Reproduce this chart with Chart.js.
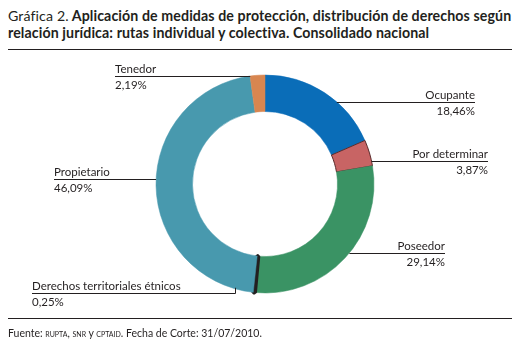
<!DOCTYPE html>
<html lang="es">
<head>
<meta charset="UTF-8">
<title>Gráfica 2</title>
<script src="https://cdn.jsdelivr.net/npm/chart.js"></script>
<style>
  html, body { margin: 0; padding: 0; background: #fff; }
  body { width: 521px; height: 342px; position: relative; overflow: hidden; font-family: Lato, "Open Sans", sans-serif; color: #231f20; }
  #title { position: absolute; left: 8px; top: 7px; width: 512px; font-size: 14.2px; line-height: 17px; font-weight: bold; white-space: nowrap; letter-spacing: 0.1px; }
  #title .lead { font-weight: normal; }
  .rule { position: absolute; left: 8px; width: 504px; height: 0; border-top: 1.5px solid #231f20; }
  #source { position: absolute; left: 8px; top: 327px; font-size: 10.5px; }
  #source .sc { font-variant: small-caps; }
  #wrap { position: absolute; left: 0; top: 0; width: 521px; height: 342px; }
</style>
</head>
<body>
<div id="title"><span class="lead">Gráfica 2.</span> Aplicación de medidas de protección, distribución de derechos según<br>relación jurídica: rutas individual y colectiva. Consolidado nacional</div>
<div class="rule" style="top:49px"></div>
<div id="wrap"><canvas id="myChart"></canvas></div>
<div class="rule" style="top:318px"></div>
<div id="source">Fuente: <span class="sc">rupta, snr</span> y <span class="sc">cptaid</span>. Fecha de Corte: 31/07/2010.</div>

<script>
// datos de la gráfica (porcentajes)
const categories = ['Ocupante', 'Por determinar', 'Poseedor', 'Derechos territoriales étnicos', 'Propietario', 'Tenedor'];
const shares = [18.46, 3.87, 29.14, 0.25, 46.09, 2.19];
const sliceColors = ['#0a6db8', '#c86464', '#3a9364', '#231f20', '#4899ae', '#d88650'];

// posición de cada etiqueta: x del texto, alineación, y de la línea guía
const labelLayout = [
  { x: 475, align: 'right', lineY: 102 },
  { x: 488, align: 'right', lineY: 161 },
  { x: 445, align: 'right', lineY: 253 },
  { x: 32, align: 'left', lineY: 293, elbowX: 235 },
  { x: 54, align: 'left', lineY: 179 },
  { x: 115, align: 'left', lineY: 76 }
];

function formatPct(v) {
  return v.toFixed(2).replace('.', ',') + '%';
}

const leaderLabels = {
  id: 'leaderLabels',
  afterDraw(chart) {
    const ctx = chart.ctx;
    const arc = chart.getDatasetMeta(0).data[0];
    const cx = arc.x, cy = arc.y, R = arc.outerRadius;
    ctx.save();
    ctx.strokeStyle = '#231f20';
    ctx.lineWidth = 1;
    ctx.fillStyle = '#231f20';
    ctx.font = '11.5px Lato, "Open Sans", sans-serif';
    categories.forEach((name, i) => {
      const l = labelLayout[i];
      const y = l.lineY + 0.5;
      ctx.beginPath();
      if (l.elbowX !== undefined) {
        // línea con codo hasta el borde del anillo
        const dx = l.elbowX - cx;
        const edgeY = cy + Math.sqrt(R * R - dx * dx);
        ctx.moveTo(l.x, y);
        ctx.lineTo(l.elbowX + 0.5, y);
        ctx.lineTo(l.elbowX + 0.5, edgeY - 1);
      } else {
        const dy = l.lineY - cy;
        const half = Math.sqrt(Math.max(R * R - dy * dy, 0));
        const edgeX = l.align === 'right' ? cx + half : cx - half;
        ctx.moveTo(edgeX, y);
        ctx.lineTo(l.x, y);
      }
      ctx.stroke();
      ctx.textAlign = l.align;
      ctx.textBaseline = 'alphabetic';
      ctx.fillText(name, l.x, l.lineY - 3);
      ctx.fillText(formatPct(shares[i]), l.x, l.lineY + 13);
    });
    ctx.restore();
  }
};

new Chart(document.getElementById('myChart').getContext('2d'), {
  type: 'doughnut',
  data: {
    labels: categories,
    datasets: [{
      data: shares,
      backgroundColor: sliceColors,
      borderColor: ['#0a6db8', '#5a2a2a', '#3a9364', '#231f20', '#4899ae', '#d88650'],
      borderWidth: [0.5, 1, 0.5, 4, 0.5, 0.5]
    }]
  },
  options: {
    responsive: true,
    maintainAspectRatio: false,
    animation: false,
    cutout: '66.5%',
    layout: { padding: { left: 154, right: 145, top: 73, bottom: 47 } },
    plugins: {
      legend: { display: false },
      tooltip: { enabled: false }
    }
  },
  plugins: [leaderLabels]
});
</script>
</body>
</html>
